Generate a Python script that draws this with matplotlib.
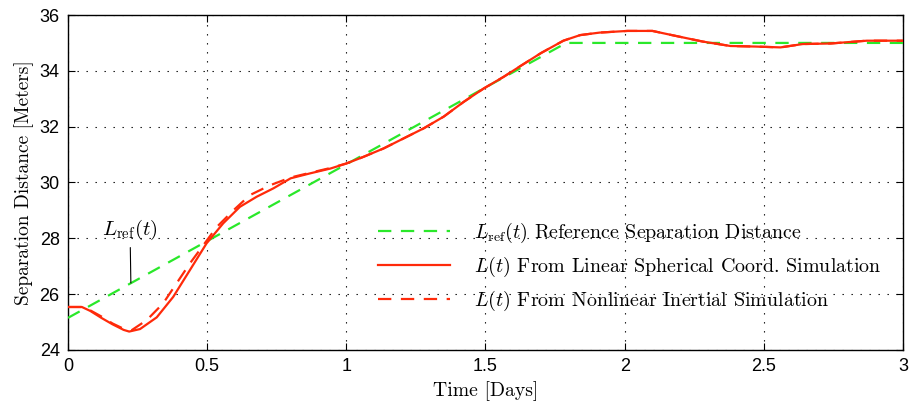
import matplotlib
matplotlib.use("Agg")
import matplotlib.pyplot as plt

plt.rcParams['mathtext.fontset'] = 'cm'
plt.rcParams['axes.unicode_minus'] = False

# Reference separation distance
t_ref = [0.0, 1.79, 3.0]
L_ref = [25.15, 35.0, 35.0]

# Linear spherical coordinate simulation
t_lin = [0.0, 0.05, 0.08, 0.12, 0.16, 0.2, 0.22, 0.259, 0.319, 0.378, 0.438, 0.498,
         0.558, 0.618, 0.678, 0.738, 0.80, 0.871, 0.943, 1.0, 1.062, 1.134, 1.206,
         1.278, 1.35, 1.422, 1.494, 1.566, 1.63, 1.70, 1.78, 1.84, 1.91, 2.01, 2.10,
         2.17, 2.28, 2.38, 2.47, 2.56, 2.64, 2.74, 2.87, 3.0]
L_lin = [25.54, 25.54, 25.4, 25.15, 24.92, 24.72, 24.66, 24.75, 25.17, 25.9, 26.86, 27.82,
         28.54, 29.13, 29.49, 29.79, 30.15, 30.33, 30.5, 30.68, 30.92, 31.22, 31.58,
         31.94, 32.36, 32.89, 33.37, 33.79, 34.2, 34.64, 35.08, 35.28, 35.37, 35.43, 35.43,
         35.28, 35.05, 34.89, 34.87, 34.84, 34.96, 34.98, 35.08, 35.08]

# Nonlinear inertial simulation
t_non = [0.0, 0.05, 0.08, 0.12, 0.16, 0.2, 0.229, 0.283, 0.342, 0.438, 0.534, 0.594,
         0.654, 0.726, 0.80, 0.871, 0.943, 1.0, 1.062, 1.134, 1.206, 1.278, 1.35,
         1.422, 1.494, 1.566, 1.63, 1.70, 1.78, 1.84, 1.91, 2.01, 2.10, 2.17, 2.28,
         2.38, 2.47, 2.56, 2.64, 2.74, 2.87, 3.0]
L_non = [25.54, 25.54, 25.42, 25.2, 24.95, 24.76, 24.71, 25.07, 25.67, 27.1, 28.4, 29.0,
         29.55, 29.9, 30.18, 30.35, 30.52, 30.68, 30.92, 31.22, 31.58, 31.94, 32.36,
         32.89, 33.37, 33.79, 34.2, 34.64, 35.08, 35.28, 35.37, 35.43, 35.43, 35.28, 35.05,
         34.89, 34.87, 34.84, 34.96, 34.98, 35.08, 35.08]

x_ticks = [0, 0.5, 1, 1.5, 2, 2.5, 3]
x_ticklabels = ['0', '0.5', '1', '1.5', '2', '2.5', '3']
y_ticks = [24, 26, 28, 30, 32, 34, 36]

green = '#2ae82a'
red = '#ff2a0a'
serif = 'cmr10'

fig = plt.figure(figsize=(9.11, 4.08), dpi=100)
ax = fig.add_axes([0.0746, 0.1422, 0.9166, 0.821])

ax.plot(t_ref, L_ref, color=green, lw=1.6, ls=(0, (6, 4.3)),
        label=r'$L_{\mathrm{ref}}(t)$ Reference Separation Distance', zorder=3)
ax.plot(t_lin, L_lin, color=red, lw=1.6, ls='-',
        label=r'$L(t)$ From Linear Spherical Coord. Simulation', zorder=4)
ax.plot(t_non, L_non, color=red, lw=1.6, ls=(0, (6, 4.3)),
        label=r'$L(t)$ From Nonlinear Inertial Simulation', zorder=4)

ax.set_xlim(0, 3)
ax.set_ylim(24, 36)
ax.set_xticks(x_ticks)
ax.set_xticklabels(x_ticklabels)
ax.set_yticks(y_ticks)
ax.grid(True, color='black', lw=0.8, ls=(0, (1.2, 6.9)))
ax.tick_params(direction='in', top=True, right=True, length=5, width=0.8,
               labelsize=13, pad=6)
for lab in ax.get_xticklabels() + ax.get_yticklabels():
    lab.set_family('Liberation Sans')
for s in ax.spines.values():
    s.set_linewidth(1.0)

ax.set_xlabel('Time [Days]', family=serif, fontsize=14.2)
ax.set_ylabel('Separation Distance [Meters]', family=serif, fontsize=14)

ax.annotate(r'$L_{\mathrm{ref}}(t)$', xy=(0.226, 26.4), xytext=(0.223, 28.3),
            ha='center', va='center', fontsize=15, family=serif,
            arrowprops=dict(arrowstyle='-', color='black', lw=0.8, shrinkA=2, shrinkB=0))

leg = ax.legend(loc='upper left', bbox_to_anchor=(0.35, 0.44), frameon=False,
                prop={'family': serif, 'size': 14.4}, handlelength=3.6,
                handletextpad=1.2, labelspacing=0.5)

fig.savefig('out.png', dpi=100)
